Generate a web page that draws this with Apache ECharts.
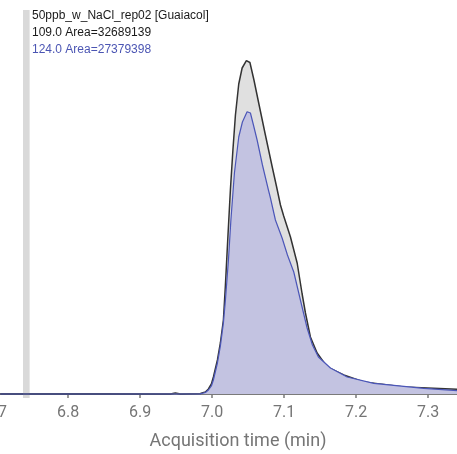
<!DOCTYPE html>
<html>
<head>
<meta charset="utf-8">
<script src="https://cdn.jsdelivr.net/npm/echarts@6/dist/echarts.min.js"></script>
<style>html,body{margin:0;padding:0;background:#fff}#c{width:457px;height:454px}</style>
</head>
<body>
<div id="c"></div>
<script>
// Acquisition time (min) and relative abundance, ion 109.0 (black trace)
var timeA = [6.706,6.8449,6.9421,6.949,6.956,6.9838,6.9907,6.9949,6.999,7.0018,7.0074,7.0115,7.0157,7.0185,7.0217,7.0254,7.0289,7.0324,7.037,7.0417,7.0476,7.0525,7.0581,7.0647,7.074,7.0838,7.0893,7.0949,7.0994,7.1088,7.1181,7.125,7.1296,7.1365,7.1458,7.1597,7.1828,7.2106,7.2662,7.34];
var ion109 = [0,0,0,1,0,0.5,2,5,10,17,34,51,74,109,154,204,244,279,310,326,333.3,331.5,314,291,259,226,208,189,178,157,131,100,81,57,41,27,19,12,7,4.7];
// ion 124.0 (blue trace)
var timeB = [6.706,6.8449,6.9838,6.9907,6.9949,6.999,7.0018,7.0074,7.0115,7.0157,7.0185,7.0227,7.0261,7.031,7.037,7.0421,7.0486,7.0532,7.0574,7.0625,7.0699,7.0782,7.081,7.0879,7.0972,7.1046,7.1134,7.1226,7.1319,7.1393,7.1476,7.1643,7.1875,7.2245,7.294,7.34];
var ion124 = [0,0,0.2,1.5,4,8,14,31,48,71,94,134,174,221,257,272,282.3,281,269,254,229,204,196,174,156,139,122,94,66,49,37,26,17,10.7,5.7,3.3];
var tickValues = [6.7,6.8,6.9,7.0,7.1,7.2,7.3];
var headerLines = ['50ppb_w_NaCl_rep02 [Guaiacol]', '109.0 Area=32689139', '124.0 Area=27379398'];
var segmentBreak = [6.7375, 6.7467];

function pairs(t, v){ return t.map(function(x,i){ return [x, v[i]]; }); }

var chart = echarts.init(document.getElementById('c'), null, {renderer:'canvas'});
chart.setOption({
  animation: false,
  grid: {left: -4, right: 0, top: 10, bottom: 56, containLabel: false, outerBoundsMode: 'none'},
  xAxis: {
    type: 'value', min: 6.7, max: 7.34, interval: 0.1,
    name: 'Acquisition time (min)', nameLocation: 'middle', nameGap: 34,
    nameTextStyle: {fontFamily: 'Roboto', fontSize: 18, color: '#757575', padding: [0,0,0,23]},
    axisLine: {lineStyle: {color: '#7a7a7a', width: 2}},
    axisTick: {show: true, length: 4, lineStyle: {color: '#7a7a7a', width: 1.5}, customValues: tickValues},
    axisLabel: {fontFamily: 'Roboto', fontSize: 16, color: '#757575', margin: 7, customValues: tickValues,
      formatter: function(v){ return v.toFixed(1); }},
    splitLine: {show: false}
  },
  yAxis: {type: 'value', min: -4, max: 384, show: false, splitLine: {show: false}},
  graphic: headerLines.map(function(s, i){
    return {type: 'text', left: 32, top: 10 + i * 17,
      style: {text: s, fontFamily: 'Liberation Sans', fontSize: 12, fill: i === 2 ? '#4b55b3' : '#1a1a1a'}};
  }),
  series: [
    {type: 'line', data: pairs(timeA, ion109), symbol: 'none', z: 2,
      lineStyle: {color: '#333333', width: 1.5},
      areaStyle: {color: '#e0e0e0', opacity: 1}},
    {type: 'line', data: pairs(timeB, ion124), symbol: 'none', z: 3,
      lineStyle: {color: '#4b56b8', width: 1.2},
      areaStyle: {color: '#c3c3e1', opacity: 1}},
    {type: 'line', data: [], z: 5,
      markArea: {silent: true, itemStyle: {color: '#d9d9d9'},
        data: [[{xAxis: segmentBreak[0]}, {xAxis: segmentBreak[1]}]]}}
  ]
});
</script>
</body>
</html>
